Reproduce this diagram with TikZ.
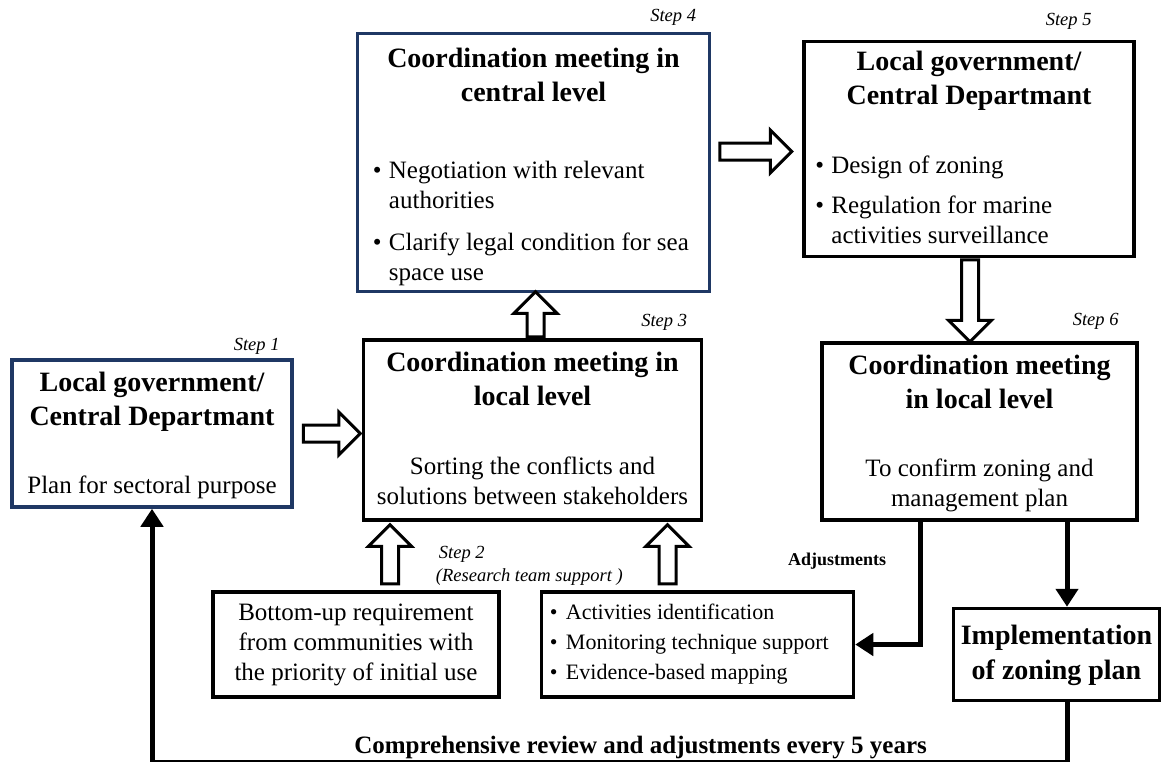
\documentclass[tikz,border=0pt]{standalone}
\usepackage{fontspec}
\setmainfont{Liberation Serif}
\usepackage{tikz}
\definecolor{navyblue}{RGB}{31,56,100}
\usetikzlibrary{arrows.meta, positioning, shapes.arrows}
\tikzstyle{box} = [draw, rectangle, line width=3.5pt, inner sep=0pt]
\tikzstyle{ttl} = [font=\fontsize{28}{34}\selectfont\bfseries, align=center, inner sep=0pt]
\tikzstyle{body} = [font=\fontsize{25}{30}\selectfont, align=center, inner sep=0pt]
\tikzstyle{steplbl} = [font=\fontsize{18.5}{22}\selectfont\itshape, inner sep=0pt, anchor=base east]
\tikzstyle{fat} = [single arrow, draw, fill=white, line width=3pt, inner sep=7pt, minimum width=40pt, single arrow head extend=13pt]
\tikzstyle{thk} = [line width=5pt, ->]
\newcommand{\bul}{\makebox[16pt][l]{\textbullet}}
\newcommand{\ind}{\makebox[16pt]{}}

\begin{document}
\begin{tikzpicture}[x=1pt, y=1pt, >={Triangle[width=22pt,length=18pt]}]
    \useasboundingbox (0,0) rectangle (1161,-761);
    % Place the blocks
    \node [box, draw=navyblue, minimum width=280pt, minimum height=147pt] (s1) at (152,-433.5) {};
    \node [box, minimum width=338pt, minimum height=180pt, right=68pt of s1, yshift=3.5pt] (s3) {};
    \node [box, draw=navyblue, minimum width=352pt, minimum height=258pt, above=45pt of s3, xshift=1pt] (s4) {};
    \node [box, minimum width=330pt, minimum height=215pt, right=91pt of s4, yshift=13.5pt] (s5) {};
    \node [box, minimum width=315pt, minimum height=177pt, below=83pt of s5, xshift=10.5pt] (s6) {};
    \node [box, minimum width=206pt, minimum height=92pt, below=85pt of s6, xshift=77pt] (impl) {};
    \node [box, minimum width=286pt, minimum height=105pt] (bu) at (356,-644.5) {};
    \node [box, minimum width=312pt, minimum height=105pt, right=39pt of bu] (rs) {};

    % Texts in the blocks (base = last line)
    \node [ttl, anchor=base] (s1t) at ([yshift=-67pt]s1.north) {Local government/\\Central Departmant};
    \node [body, anchor=base] (s1b) at ([yshift=15pt]s1.south) {Plan for sectoral purpose};
    \node [ttl, anchor=base] (s3t) at ([yshift=-67pt]s3.north) {Coordination meeting in\\local level};
    \node [body, anchor=base] (s3b) at ([yshift=17pt]s3.south) {Sorting the conflicts and\\solutions between stakeholders};
    \node [ttl, anchor=base] (s4t) at ([yshift=-70pt]s4.north) {Coordination meeting in\\central level};
    \node [body, align=left, anchor=base west] (s4b) at ([xshift=17pt, yshift=13pt]s4.south west)
        {\bul Negotiation with relevant\\\ind authorities\\[12pt]\bul Clarify legal condition for sea\\\ind space use};
    \node [ttl, anchor=base] (s5t) at ([yshift=-65pt]s5.north) {Local government/\\Central Departmant};
    \node [body, align=left, anchor=base west] (s5b) at ([xshift=13pt, yshift=15pt]s5.south west)
        {\bul Design of zoning\\[10pt]\bul Regulation for marine\\\ind activities surveillance};
    \node [ttl, anchor=base] (s6t) at ([yshift=-67pt]s6.north) {Coordination meeting\\in local level};
    \node [body, anchor=base] (s6b) at ([yshift=15pt]s6.south) {To confirm zoning and\\management plan};
    \node [ttl, anchor=base] (implt) at ([yshift=-73pt]impl.north) {Implementation\\[1pt]of zoning plan};
    \node [body] (but) at (bu) {Bottom-up requirement\\from communities with\\the priority of initial use};
    \node [body, align=left, font=\fontsize{22}{30}\selectfont, anchor=west] (rst) at ([xshift=10pt]rs.west)
        {\bul Activities identification\\\bul Monitoring technique support\\\bul Evidence-based mapping};

    % Step labels
    \node [steplbl] (l1) at ([xshift=-14pt, yshift=8pt]s1.north east) {Step 1};
    \node [steplbl] (l3) at ([xshift=-16pt, yshift=12pt]s3.north east) {Step 3};
    \node [steplbl] (l4) at ([xshift=-15pt, yshift=10pt]s4.north east) {Step 4};
    \node [steplbl] (l5) at ([xshift=-44pt, yshift=14pt]s5.north east) {Step 5};
    \node [steplbl] (l6) at ([xshift=-20pt, yshift=16pt]s6.north east) {Step 6};
    \node [steplbl, anchor=base west] (l2) at ([xshift=-101pt, yshift=32pt]rs.north west) {Step 2};
    \node [steplbl, anchor=base west] (l2b) at ([xshift=-104pt, yshift=9pt]rs.north west) {(Research team support )};

    % Hollow arrows
    \node [fat, anchor=tail, minimum height=57pt] (a13) at ([xshift=8pt]s1.east) {};
    \node [fat, anchor=tail, minimum height=45pt, rotate=90] (a34) at ([xshift=3pt]s3.north) {};
    \node [fat, anchor=tail, minimum height=72pt] (a45) at ([xshift=7pt, yshift=11pt]s4.east) {};
    \node [fat, anchor=tail, minimum height=82pt, rotate=-90] (a56) at ([xshift=1pt]s5.south) {};
    \node [fat, anchor=tail, minimum height=59pt, rotate=90] (a2a) at ([xshift=34pt, yshift=5pt]bu.north) {};
    \node [fat, anchor=tail, minimum height=59pt, rotate=90] (a2b) at ([xshift=-30pt, yshift=5pt]rs.north) {};

    % Connect the nodes
    \coordinate (ix) at ([xshift=10.5pt]impl.north);
    \draw [thk] ([xshift=-59.5pt]s6.south) |- node[pos=0.18, anchor=base east, xshift=-28pt, font=\fontsize{18}{22}\selectfont\bfseries] (adj) {Adjustments} (rs.east);
    \draw [thk] (ix |- s6.south) -- (ix);
    \draw [thk] (ix |- impl.south) -- ++(0,-60) -| node[pos=0.233, anchor=base, yshift=9pt, font=\fontsize{25}{30}\selectfont\bfseries] (rev) {Comprehensive review and adjustments every 5 years} (s1.south);
\end{tikzpicture}
\end{document}
